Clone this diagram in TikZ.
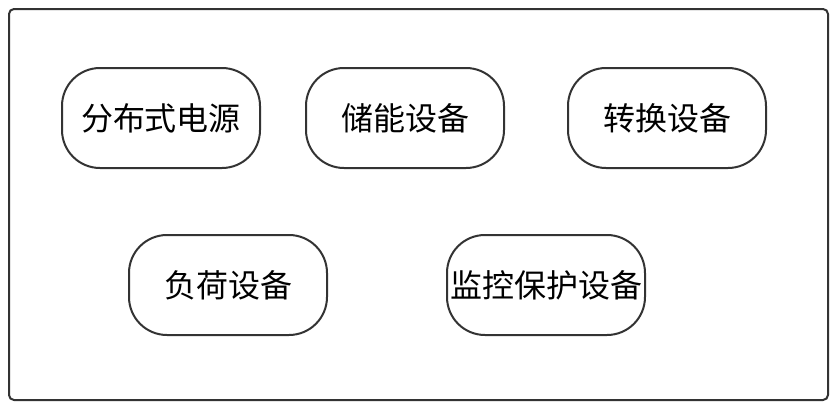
\documentclass[tikz,border=0pt]{standalone}
\usepackage{fontspec}
\newfontfamily\cjk{Noto Sans CJK SC}
\definecolor{linegray}{HTML}{333333}
\tikzset{
    device/.style={draw=linegray, line width=2pt, rounded corners=38pt,
        minimum width=198pt, minimum height=100pt, inner sep=0pt,
        font=\cjk\fontsize{32pt}{34pt}\selectfont}
}
\begin{document}
\begin{tikzpicture}[x=1pt, y=-1pt]
    % page
    \useasboundingbox (0,0) rectangle (836,405);
    % outer box
    \draw[linegray, line width=2pt, rounded corners=5pt] (9,9) rectangle (828,400);

    % top row
    \node[device] (source)  at (161,118) {分布式电源};
    \node[device] (storage) at (405,118) {储能设备};
    \node[device] (convert) at (667,118) {转换设备};

    % bottom row
    \node[device] (load)    at (228,285) {负荷设备};
    \node[device] (monitor) at (546,285) {监控保护设备};
\end{tikzpicture}
\end{document}
